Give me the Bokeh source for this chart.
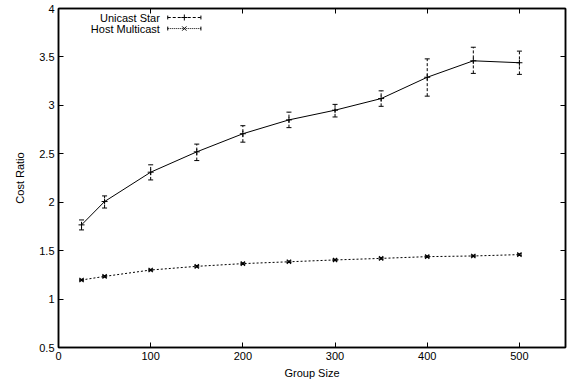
from bokeh.plotting import figure
from bokeh.models import Range1d, LinearAxis, FixedTicker, Whisker, TeeHead, ColumnDataSource, Label
from bokeh.embed import file_html
from bokeh.resources import INLINE

group_size = [25, 50, 100, 150, 200, 250, 300, 350, 400, 450, 500]
unicast = [1.766, 2.007, 2.31, 2.52, 2.707, 2.85, 2.95, 3.07, 3.29, 3.46, 3.44]
unicast_lo = [1.714, 1.94, 2.23, 2.43, 2.62, 2.77, 2.88, 2.99, 3.095, 3.33, 3.32]
unicast_hi = [1.817, 2.065, 2.386, 2.60, 2.79, 2.93, 3.01, 3.15, 3.48, 3.60, 3.56]
host = [1.197, 1.234, 1.30, 1.338, 1.366, 1.385, 1.404, 1.42, 1.438, 1.445, 1.459]
host_lo = [1.190, 1.227, 1.293, 1.331, 1.359, 1.378, 1.397, 1.413, 1.431, 1.438, 1.452]
host_hi = [1.204, 1.241, 1.307, 1.345, 1.373, 1.392, 1.411, 1.427, 1.445, 1.452, 1.466]
x_ticks = [0, 100, 200, 300, 400, 500]
y_ticks = [0.5, 1, 1.5, 2, 2.5, 3, 3.5, 4]
series_names = ["Unicast Star", "Host Multicast"]

FONT = "Liberation Sans"

p = figure(width=569, height=381, output_backend="svg", toolbar_location=None,
           x_range=Range1d(0, 550), y_range=Range1d(0.5, 4),
           min_border_left=58, min_border_right=4, min_border_top=8, min_border_bottom=34)
p.grid.visible = False
p.outline_line_color = "black"
p.outline_line_width = 1.5
p.background_fill_color = "white"
p.border_fill_color = "white"

for ax in [p.xaxis[0], p.yaxis[0]]:
    ax.major_tick_in = 5
    ax.major_tick_out = 0
    ax.minor_tick_in = 0
    ax.minor_tick_out = 0
    ax.axis_line_color = "black"
    ax.major_tick_line_color = "black"
    ax.axis_line_width = 1.5
    ax.major_label_text_font = FONT
    ax.major_label_text_font_size = "11px"
    ax.major_label_text_color = "black"
    ax.axis_label_text_font = FONT
    ax.axis_label_text_font_size = "11px"
    ax.axis_label_text_font_style = "normal"
    ax.axis_label_text_color = "black"
    ax.major_label_standoff = 4

p.xaxis[0].ticker = FixedTicker(ticks=x_ticks)
p.yaxis[0].ticker = FixedTicker(ticks=y_ticks)
p.xaxis[0].axis_label = "Group Size"
p.yaxis[0].axis_label = "Cost Ratio"
p.xaxis[0].axis_label_standoff = 4
p.yaxis[0].axis_label_standoff = 10

# mirrored axes (ticks only)
top = LinearAxis(ticker=FixedTicker(ticks=x_ticks),
                 major_label_overrides={t: "" for t in x_ticks},
                 major_tick_in=5, major_tick_out=0, minor_tick_in=0, minor_tick_out=0,
                 axis_line_width=1.5, axis_line_color="black", major_tick_line_color="black")
right = LinearAxis(ticker=FixedTicker(ticks=y_ticks),
                   major_label_overrides={t: "" for t in y_ticks},
                   major_tick_in=5, major_tick_out=0, minor_tick_in=0, minor_tick_out=0,
                   axis_line_width=1.5, axis_line_color="black", major_tick_line_color="black")
p.add_layout(top, "above")
p.add_layout(right, "right")
p.min_border_top = 8
p.min_border_right = 4

src_u = ColumnDataSource(dict(x=group_size, y=unicast, lo=unicast_lo, hi=unicast_hi))
src_h = ColumnDataSource(dict(x=group_size, y=host, lo=host_lo, hi=host_hi))

p.line("x", "y", source=src_u, line_color="black", line_width=1)
p.add_layout(Whisker(source=src_u, base="x", lower="lo", upper="hi", dimension="height",
                     line_color="black", line_width=1, line_dash="3 2",
                     upper_head=TeeHead(size=5, line_color="black", line_width=1),
                     lower_head=TeeHead(size=5, line_color="black", line_width=1)))
p.scatter("x", "y", source=src_u, marker="cross", size=6, line_color="black", line_width=1)

p.line("x", "y", source=src_h, line_color="black", line_width=1, line_dash="2 2")
p.add_layout(Whisker(source=src_h, base="x", lower="lo", upper="hi", dimension="height",
                     line_color="black", line_width=1,
                     upper_head=TeeHead(size=5, line_color="black", line_width=1),
                     lower_head=TeeHead(size=5, line_color="black", line_width=1)))
p.scatter("x", "y", source=src_h, marker="x", size=6, line_color="black", line_width=1.2)

# legend (gnuplot style: text on left, sample on right)
LEG_X0, LEG_X1 = 118.5, 154.5
LEG_Y = [3.907, 3.793]
p.segment(x0=[LEG_X0], y0=[LEG_Y[0]], x1=[LEG_X1], y1=[LEG_Y[0]], line_color="black",
          line_width=1, line_dash="3 2")
p.segment(x0=[LEG_X0, LEG_X1], y0=[LEG_Y[0] - 0.02] * 2, x1=[LEG_X0, LEG_X1],
          y1=[LEG_Y[0] + 0.02] * 2, line_color="black", line_width=1)
p.scatter(x=[(LEG_X0 + LEG_X1) / 2], y=[LEG_Y[0]], marker="cross", size=6, line_color="black")
p.segment(x0=[LEG_X0], y0=[LEG_Y[1]], x1=[LEG_X1], y1=[LEG_Y[1]], line_color="black",
          line_width=1, line_dash="1 1")
p.segment(x0=[LEG_X0, LEG_X1], y0=[LEG_Y[1] - 0.02] * 2, x1=[LEG_X0, LEG_X1],
          y1=[LEG_Y[1] + 0.02] * 2, line_color="black", line_width=1)
p.scatter(x=[(LEG_X0 + LEG_X1) / 2], y=[LEG_Y[1]], marker="x", size=6, line_color="black")
for name, yy in zip(series_names, LEG_Y):
    p.add_layout(Label(x=110, y=yy, text=name, text_align="right", text_baseline="middle",
                       text_font=FONT, text_font_size="11px", text_color="black"))

open("out.html", "w").write(file_html(p, INLINE))
